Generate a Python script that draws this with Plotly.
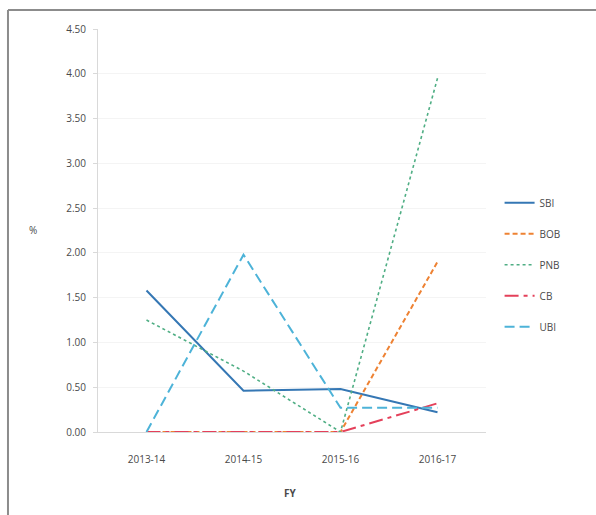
import plotly.graph_objects as go

years = ["2013-14", "2014-15", "2015-16", "2016-17"]
sbi = [1.58, 0.46, 0.48, 0.22]
bob = [0.00, 0.00, 0.00, 1.90]
pnb = [1.25, 0.68, 0.00, 3.95]
cb = [0.00, 0.00, 0.00, 0.32]
ubi = [0.00, 1.98, 0.27, 0.27]

series = [
    ("SBI", sbi, "#3577B4", "solid", 2),
    ("BOB", bob, "#EE8233", "5px,3px", 2),
    ("PNB", pnb, "#4FAE84", "dot", 1.6),
    ("CB", cb, "#E4405A", "14px,5px,4px,5px", 2),
    ("UBI", ubi, "#4DB3D8", "10px,5px", 2),
]

fig = go.Figure()
for name, vals, color, dash, w in series:
    fig.add_trace(go.Scatter(
        x=years, y=vals, name=name, mode="lines", legendgroup=name,
        line=dict(color=color, dash=dash, width=w),
    ))

font_family = "Open Sans, Liberation Sans, sans-serif"
text_color = "#4a4a4a"

fig.update_layout(
    width=596, height=515,
    margin=dict(l=98, r=110, t=29, b=83),
    paper_bgcolor="white", plot_bgcolor="white",
    font=dict(family=font_family, size=10, color=text_color),
    showlegend=True,
    legend=dict(
        x=1.035, y=0.415, xanchor="left", yanchor="middle",
        tracegroupgap=12, font=dict(size=10, color=text_color),
        bgcolor="rgba(0,0,0,0)",
    ),
    xaxis=dict(
        type="category", range=[-0.5, 3.5],
        showline=True, linecolor="#d9d9d9", linewidth=1,
        showgrid=False, ticks="", tickfont=dict(size=10),
        ticklabelstandoff=18,
    ),
    yaxis=dict(
        range=[0, 4.5], dtick=0.5, tickformat=".2f",
        showline=True, linecolor="#d9d9d9", linewidth=1,
        ticks="outside", ticklen=4, tickcolor="#d9d9d9",
        showgrid=True, gridcolor="#f4f4f4", zeroline=False,
        tickfont=dict(size=10), ticklabelstandoff=5,
    ),
    annotations=[
        dict(text="%", x=(33 - 98) / 388, y=(432 - 230) / 403,
             xref="paper", yref="paper", showarrow=False,
             xanchor="center", yanchor="middle",
             font=dict(size=10, color=text_color)),
        dict(text="<b>FY</b>", x=0.495, y=-0.152, xref="paper", yref="paper",
             xanchor="center", yanchor="middle",
             showarrow=False, font=dict(size=10, color=text_color)),
    ],
    shapes=[
        dict(type="line", xref="paper", yref="paper", x0=-0.232, x1=1.3,
             y0=1.047, y1=1.047, line=dict(color="#8c8c8c", width=2)),
        dict(type="line", xref="paper", yref="paper", x0=-0.232, x1=-0.232,
             y0=1.047, y1=-0.25, line=dict(color="#8c8c8c", width=2)),
    ],
)

fig.write_html("out.html")
